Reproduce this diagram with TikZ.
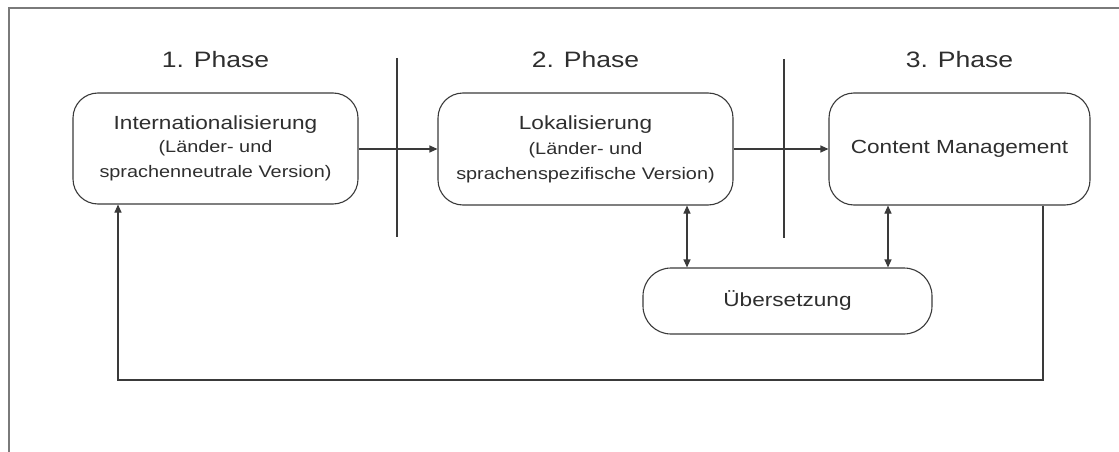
\documentclass[tikz,border=0pt]{standalone}
\usepackage{fontspec}
\setmainfont{Liberation Sans}[FakeStretch=1.19]
\usetikzlibrary{arrows.meta,calc}
\definecolor{ln}{HTML}{3A3A3A}
\definecolor{tx}{HTML}{2E2E2E}
\definecolor{fr}{HTML}{7A7A7A}
\begin{document}
\begin{tikzpicture}[x=1pt,y=-1pt,
  box/.style={draw=ln,line width=1.1pt,rounded corners=25pt,inner sep=0pt,align=center,text=tx,
    font=\fontsize{19}{25}\selectfont},
  phase/.style={text=tx,font=\fontsize{22.3}{26}\selectfont,anchor=base,inner sep=0pt},
  sep/.style={draw=ln,line width=1.1pt},
  conn/.style={draw=ln,line width=1.1pt,-{Triangle[length=8pt,width=7pt]}},
  dconn/.style={draw=ln,line width=1.1pt,{Triangle[length=8pt,width=7pt]}-{Triangle[length=8pt,width=7pt]}}]
\useasboundingbox (0,0) rectangle (1119,452);
\draw[fr,line width=1.3pt] (9,452) -- (9,8) -- (1119,8);
% titles
\node[phase] (t1) at (215.5,67) {1. Phase};
\node[phase] (t2) at (585.5,67) {2. Phase};
\node[phase] (t3) at (959.5,67) {3. Phase};
% separators
\coordinate (s1a) at (397,58); \coordinate (s1b) at (397,237);
\coordinate (s2a) at (784,59); \coordinate (s2b) at (784,238);
\draw[sep] (s1a) -- (s1b);
\draw[sep] (s2a) -- (s2b);
% boxes
\node[box,minimum width=285pt,minimum height=111pt] (b1) at (215.5,148.5)
  {\raisebox{-2pt}{Internationalisierung}\\{\fontsize{16.7}{25}\selectfont (Länder- und}\\{\fontsize{16.7}{25}\selectfont sprachenneutrale Version)}};
\node[box,minimum width=295pt,minimum height=112pt] (b2) at (585.5,149)
  {Lokalisierung\\{\fontsize{16.7}{25}\selectfont (Länder- und}\\{\fontsize{16.7}{25}\selectfont sprachenspezifische Version)}};
\node[box,minimum width=261pt,minimum height=112pt] (b3) at (959.5,149) {Content Management};
\node[box,rounded corners=28pt,minimum width=289pt,minimum height=66pt] (u) at (787.5,301) {Übersetzung};
% connectors
\coordinate (h1) at (0,149);
\draw[conn] (b1.east |- h1) -- (b2.west |- h1);
\draw[conn] (b2.east |- h1) -- (b3.west |- h1);
\coordinate (c1) at (687,0);
\coordinate (c2) at (888,0);
\draw[dconn] (b2.south -| c1) -- (u.north -| c1);
\draw[dconn] (b3.south -| c2) -- (u.north -| c2);
\coordinate (fbR) at (1043,380);
\coordinate (fbL) at (118,380);
\draw[conn] (b3.south -| fbR) -- (fbR) -- (fbL) -- (b1.south -| fbL);
\end{tikzpicture}
\end{document}
